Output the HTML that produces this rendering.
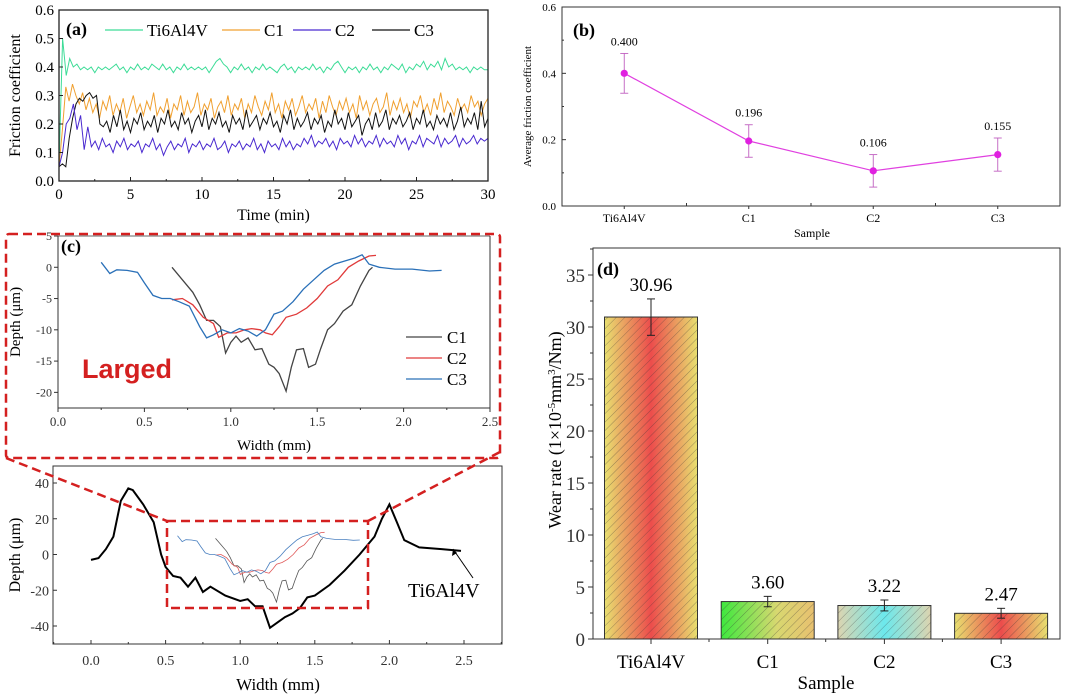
<!DOCTYPE html>
<html><head><meta charset="utf-8"><style>
body{margin:0;background:#fff;}
svg{display:block;font-family:"Liberation Serif",serif;}
</style></head><body>
<svg id="fig" width="1080" height="698" viewBox="0 0 1080 698" xmlns="http://www.w3.org/2000/svg">
<defs>
<pattern id="hatch" width="6" height="6" patternUnits="userSpaceOnUse" patternTransform="rotate(45)"><line x1="0" y1="0" x2="0" y2="6" stroke="#333" stroke-width="0.8" opacity="0.55"/></pattern>
<linearGradient id="gTi" x1="0" x2="1"><stop offset="0" stop-color="#e8e070"/><stop offset="0.5" stop-color="#ec4c4c"/><stop offset="1" stop-color="#e8e070"/></linearGradient>
<linearGradient id="gC1" x1="0" x2="1"><stop offset="0" stop-color="#3ee83e"/><stop offset="0.6" stop-color="#d8d870"/><stop offset="1" stop-color="#e8c070"/></linearGradient>
<linearGradient id="gC2" x1="0" x2="1"><stop offset="0" stop-color="#dcd4b0"/><stop offset="0.5" stop-color="#6ce8ec"/><stop offset="1" stop-color="#dcd4b0"/></linearGradient>
<linearGradient id="gC3" x1="0" x2="1"><stop offset="0" stop-color="#e8e070"/><stop offset="0.5" stop-color="#ec4c4c"/><stop offset="1" stop-color="#e8e070"/></linearGradient>
</defs>
<g id="pa"></g>
<g id="pb"></g>
<g id="pc"></g>
<g id="pd"></g>
</svg>
<script>
// ---- Panel (a) data ----
const fricTi=[0.05,0.50,0.37,0.43,0.40,0.41,0.39,0.40,0.39,0.40,0.38,0.40,0.39,0.40,0.39,0.40,0.41,0.39,0.40,0.38,0.40,0.39,0.41,0.39,0.40,0.39,0.41,0.40,0.39,0.41,0.39,0.40,0.38,0.40,0.39,0.41,0.39,0.40,0.39,0.40,0.39,0.40,0.38,0.40,0.42,0.43,0.41,0.40,0.38,0.40,0.39,0.41,0.39,0.40,0.38,0.40,0.39,0.41,0.39,0.40,0.39,0.38,0.40,0.41,0.39,0.40,0.38,0.40,0.39,0.40,0.39,0.41,0.39,0.40,0.38,0.40,0.39,0.41,0.42,0.40,0.38,0.40,0.39,0.40,0.38,0.40,0.39,0.41,0.39,0.40,0.38,0.40,0.39,0.41,0.40,0.39,0.41,0.38,0.40,0.39,0.41,0.40,0.42,0.39,0.41,0.40,0.42,0.39,0.43,0.40,0.41,0.39,0.40,0.39,0.40,0.38,0.40,0.39,0.40,0.39,0.39];
const fricC1=[0.05,0.18,0.33,0.28,0.34,0.30,0.27,0.31,0.25,0.29,0.24,0.27,0.22,0.28,0.25,0.30,0.23,0.27,0.24,0.29,0.22,0.26,0.30,0.24,0.27,0.23,0.28,0.25,0.31,0.23,0.26,0.24,0.29,0.22,0.27,0.25,0.30,0.23,0.28,0.24,0.26,0.31,0.23,0.27,0.25,0.29,0.22,0.26,0.28,0.24,0.30,0.23,0.27,0.25,0.29,0.22,0.27,0.24,0.30,0.26,0.23,0.28,0.25,0.31,0.24,0.27,0.22,0.28,0.25,0.29,0.23,0.26,0.30,0.24,0.27,0.25,0.29,0.22,0.28,0.24,0.30,0.26,0.23,0.28,0.25,0.29,0.24,0.27,0.22,0.30,0.25,0.28,0.23,0.27,0.29,0.24,0.26,0.31,0.23,0.28,0.25,0.29,0.24,0.27,0.22,0.28,0.26,0.30,0.24,0.27,0.23,0.29,0.25,0.31,0.24,0.28,0.26,0.23,0.29,0.25,0.27,0.24,0.30,0.26,0.28,0.23,0.27,0.29];
const fricC2=[0.05,0.10,0.20,0.22,0.27,0.18,0.23,0.11,0.19,0.12,0.14,0.11,0.15,0.12,0.13,0.10,0.14,0.12,0.15,0.11,0.13,0.12,0.14,0.10,0.13,0.12,0.15,0.11,0.13,0.09,0.12,0.14,0.11,0.13,0.12,0.15,0.10,0.13,0.12,0.14,0.11,0.13,0.12,0.15,0.11,0.12,0.14,0.10,0.13,0.12,0.14,0.11,0.13,0.12,0.15,0.11,0.13,0.10,0.14,0.12,0.13,0.11,0.15,0.12,0.14,0.11,0.13,0.12,0.15,0.13,0.16,0.12,0.14,0.13,0.15,0.12,0.14,0.11,0.15,0.13,0.14,0.12,0.16,0.13,0.15,0.12,0.14,0.13,0.16,0.12,0.15,0.13,0.14,0.12,0.16,0.13,0.15,0.11,0.14,0.13,0.16,0.12,0.15,0.14,0.13,0.16,0.12,0.15,0.13,0.14,0.16,0.12,0.15,0.13,0.14,0.16,0.13,0.15,0.14,0.15];
const fricC3=[0.05,0.06,0.05,0.15,0.22,0.27,0.29,0.28,0.30,0.31,0.29,0.30,0.20,0.19,0.21,0.17,0.23,0.19,0.25,0.18,0.21,0.17,0.22,0.20,0.24,0.18,0.21,0.19,0.23,0.17,0.22,0.20,0.25,0.19,0.21,0.18,0.24,0.20,0.22,0.17,0.21,0.23,0.19,0.25,0.18,0.22,0.20,0.24,0.19,0.21,0.17,0.23,0.20,0.22,0.18,0.25,0.19,0.21,0.23,0.18,0.22,0.20,0.24,0.19,0.21,0.17,0.23,0.20,0.25,0.18,0.22,0.19,0.21,0.24,0.18,0.22,0.20,0.23,0.17,0.21,0.19,0.25,0.20,0.22,0.18,0.24,0.19,0.21,0.23,0.16,0.20,0.22,0.18,0.24,0.19,0.21,0.25,0.18,0.22,0.20,0.23,0.19,0.21,0.24,0.18,0.22,0.20,0.25,0.19,0.21,0.18,0.23,0.20,0.22,0.19,0.24,0.18,0.21,0.26,0.19,0.22,0.20,0.24,0.18,0.28,0.19,0.22];
const timeTicks=[0,5,10,15,20,25,30];
const fricTicks=["0.0","0.1","0.2","0.3","0.4","0.5","0.6"];
// ---- Panel (b) data ----
const samples=["Ti6Al4V","C1","C2","C3"];
const avgFric=[0.400,0.196,0.106,0.155];
const avgFricErr=[0.060,0.049,0.049,0.050];
const avgLabels=["0.400","0.196","0.106","0.155"];
const avgTicks=["0.0","0.2","0.4","0.6"];
// ---- Panel (c) data ----
const c1X=[0.66,0.72,0.78,0.82,0.86,0.90,0.94,0.97,1.0,1.03,1.06,1.1,1.14,1.18,1.22,1.25,1.28,1.32,1.35,1.38,1.42,1.45,1.49,1.52,1.56,1.6,1.65,1.7,1.75,1.8,1.82];
const c1Y=[0,-2,-4,-6,-8.5,-8.5,-9.5,-13.7,-12,-11,-12,-11.3,-13.2,-13,-15.5,-16,-17,-19.8,-16,-13.2,-13,-16,-15.5,-13,-10,-9,-7,-6,-3,-0.5,0];
const c2X=[0.66,0.72,0.78,0.84,0.9,0.93,0.98,1.03,1.08,1.12,1.17,1.2,1.24,1.28,1.32,1.38,1.44,1.5,1.56,1.62,1.68,1.74,1.8,1.84];
const c2Y=[-5.2,-5,-6,-8,-9,-11.2,-10.5,-10.5,-10,-9.8,-10,-10.5,-10.8,-9.5,-8,-7.5,-6.5,-5,-3,-2,0,1,1.8,1.9];
const c3X=[0.25,0.3,0.34,0.4,0.46,0.5,0.55,0.6,0.65,0.7,0.76,0.82,0.86,0.9,0.95,1.0,1.05,1.1,1.15,1.2,1.25,1.3,1.36,1.42,1.48,1.54,1.6,1.66,1.72,1.76,1.8,1.86,1.95,2.05,2.15,2.22];
const c3Y=[0.8,-1,-0.4,-0.5,-0.8,-2.5,-4.5,-5,-5,-5.5,-6.2,-9.5,-11.3,-10.8,-10,-10.5,-9.8,-10.2,-11,-10,-7.5,-7,-5.5,-3.5,-2,-0.5,0.5,1,1.5,2,0.5,0,-0.3,-0.3,-0.6,-0.5];
const tiX=[0,0.05,0.1,0.15,0.2,0.25,0.28,0.35,0.42,0.47,0.5,0.55,0.6,0.65,0.7,0.75,0.8,0.9,1.0,1.05,1.1,1.15,1.2,1.25,1.3,1.35,1.4,1.45,1.5,1.6,1.7,1.8,1.9,1.95,2.0,2.05,2.1,2.2,2.35,2.48];
const tiY=[-3,-2,3,10,30,37,36,28,18,0,-7,-12,-13,-18,-13,-21,-18,-23,-26,-25,-29,-29,-41,-38,-35,-33,-30,-24,-23,-17,-9,0,10,20,28,18,8,4,3,2];
const widthTicks=["0.0","0.5","1.0","1.5","2.0","2.5"];
const insetDepthTicks=[5,0,-5,-10,-15,-20];
const mainDepthTicks=[40,20,0,-20,-40];
// ---- Panel (d) data ----
const wearRate=[30.96,3.60,3.22,2.47];
const wearLo=[29.2,3.1,2.7,2.0];
const wearHi=[32.7,4.1,3.75,2.95];
const wearLabels=["30.96","3.60","3.22","2.47"];
const wearTicks=[0,5,10,15,20,25,30,35];
const wearFills=["url(#gTi)","url(#gC1)","url(#gC2)","url(#gC3)"];

const NS="http://www.w3.org/2000/svg";
function mk(parent,tag,attrs,text){const e=document.createElementNS(NS,tag);for(const k in attrs)e.setAttribute(k,attrs[k]);if(text!==undefined)e.textContent=text;parent.appendChild(e);return e;}
function pathD(xs,ys,fx,fy){let d="";for(let i=0;i<xs.length;i++)d+=(i?"L":"M")+fx(xs[i]).toFixed(1)+","+fy(ys[i]).toFixed(1);return d;}

// ===== Panel A =====
(function(){
const g=document.getElementById('pa');
const X0=59,X1=488,Y0=181,Y1=10;
const fx=t=>X0+(t/30)*(X1-X0), fy=v=>Y0-(v/0.6)*(Y0-Y1);
const series=[[fricTi,"#3ddc97","series-ti6al4v"],[fricC1,"#f0a030","series-c1"],[fricC3,"#111","series-c3"],[fricC2,"#4a2ad0","series-c2"]];
series.forEach(s=>{const arr=s[0];const xs=arr.map((v,i)=>i*30/(arr.length-1));
 const p=mk(g,'path',{d:pathD(xs,arr,fx,fy),fill:'none',stroke:s[1],'stroke-width':1});
 
 });
const fr=mk(g,'rect',{x:X0,y:Y1,width:X1-X0,height:Y0-Y1,fill:'none',stroke:'#222','stroke-width':1.3});

timeTicks.forEach((t,i)=>{mk(g,'line',{x1:fx(t),x2:fx(t),y1:Y0,y2:Y0-4,stroke:'#222'});
 if(i<timeTicks.length-1)mk(g,'line',{x1:fx(t+2.5),x2:fx(t+2.5),y1:Y0,y2:Y0-2,stroke:'#222'});
 const tl=mk(g,'text',{x:fx(t),y:Y0+18,'font-size':15,'text-anchor':'middle'},String(t));
 });
fricTicks.forEach(s=>{const y=fy(parseFloat(s));mk(g,'line',{x1:X0,x2:X0+4,y1:y,y2:y,stroke:'#222'});
 const tl=mk(g,'text',{x:X0-5,y:y+5,'font-size':15,'text-anchor':'end'},s);
 });
const xt=mk(g,'text',{x:(X0+X1)/2,y:220,'font-size':16,'text-anchor':'middle'},'Time (min)');

const yt=mk(g,'text',{x:0,y:0,'font-size':16,'text-anchor':'middle',transform:'translate(20,'+(Y0+Y1)/2+') rotate(-90)'},'Friction coefficient');

const lab=mk(g,'text',{x:66,y:35,'font-size':18,'font-weight':'bold'},'(a)');

const leg=[["Ti6Al4V","#3ddc97",105],["C1","#f0a030",222],["C2","#4a2ad0",293],["C3","#111",372]];
leg.forEach(l=>{mk(g,'line',{x1:l[2],x2:l[2]+38,y1:30,y2:30,stroke:l[1],'stroke-width':1.2});
 const t=mk(g,'text',{x:l[2]+42,y:36,'font-size':17},l[0]);
 });
})();

// ===== Panel B =====
(function(){
const g=document.getElementById('pb');
const X0=562,X1=1060,Y0=206,Y1=7;
const fx=i=>X0+(i+0.5)*(X1-X0)/4, fy=v=>Y0-(v/0.6)*(Y0-Y1);
const fr=mk(g,'rect',{x:X0,y:Y1,width:X1-X0,height:Y0-Y1,fill:'none',stroke:'#333','stroke-width':1});

avgTicks.forEach(s=>{const y=fy(parseFloat(s));mk(g,'line',{x1:X0,x2:X0+4,y1:y,y2:y,stroke:'#333'});
 const t=mk(g,'text',{x:X0-6,y:y+4,'font-size':11,'text-anchor':'end'},s);
 });
[0.1,0.3,0.5].forEach(v=>mk(g,'line',{x1:X0,x2:X0+2,y1:fy(v),y2:fy(v),stroke:'#333'}));
for(let i=1;i<4;i++){const x=X0+i*(X1-X0)/4;mk(g,'line',{x1:x,x2:x,y1:Y0,y2:Y0-3,stroke:'#333'});}
mk(g,'path',{d:pathD(samples.map((s,i)=>i),avgFric,fx,fy),fill:'none',stroke:'#e040e0','stroke-width':1.2});
samples.forEach((s,i)=>{const x=fx(i);
 mk(g,'line',{x1:x,x2:x,y1:fy(avgFric[i]-avgFricErr[i]),y2:fy(avgFric[i]+avgFricErr[i]),stroke:'#c060c0','stroke-width':0.9});
 [avgFric[i]-avgFricErr[i],avgFric[i]+avgFricErr[i]].forEach(v=>mk(g,'line',{x1:x-4,x2:x+4,y1:fy(v),y2:fy(v),stroke:'#c060c0','stroke-width':0.9}));
 const c=mk(g,'circle',{cx:x,cy:fy(avgFric[i]),r:3.6,fill:'#e020e0'});
 
 mk(g,'text',{x:x,y:fy(avgFric[i]+avgFricErr[i])-8,'font-size':12,'text-anchor':'middle'},avgLabels[i]);
 mk(g,'line',{x1:x,x2:x,y1:Y0,y2:Y0+3,stroke:'#333'});
 const t=mk(g,'text',{x:x,y:Y0+16,'font-size':12,'text-anchor':'middle'},s);
 });
const xt=mk(g,'text',{x:812,y:237,'font-size':12,'text-anchor':'middle'},'Sample');

const yt=mk(g,'text',{x:0,y:0,'font-size':11,'text-anchor':'middle',transform:'translate(531,'+(Y0+Y1)/2+') rotate(-90)'},'Average friction coefficient');

const lab=mk(g,'text',{x:573,y:36,'font-size':18,'font-weight':'bold'},'(b)');

})();

// ===== Panel C =====
(function(){
const g=document.getElementById('pc');
// inset
const X0=58,X1=490,YT=236,YB=408;
const fx=v=>X0+v/2.5*(X1-X0), fy=v=>YT+(5-v)/27.5*(YB-YT);
[[c1X,c1Y,"#444","inset-c1"],[c2X,c2Y,"#e03a3a","inset-c2"],[c3X,c3Y,"#2a70b8","inset-c3"]].forEach(s=>{
 const p=mk(g,'path',{d:pathD(s[0],s[1],fx,fy),fill:'none',stroke:s[2],'stroke-width':1.3});
 });
mk(g,'polyline',{points:`${X0},${YT} ${X0},${YB} ${X1},${YB} ${X1},${YT}`,fill:'none',stroke:'#333','stroke-width':1});
mk(g,'line',{x1:X0,x2:X1,y1:YT,y2:YT,stroke:'#333','stroke-width':0.8});
widthTicks.forEach(s=>{const x=fx(parseFloat(s));mk(g,'line',{x1:x,x2:x,y1:YB,y2:YB+4,stroke:'#333'});
 mk(g,'line',{x1:x+0.125*(X1-X0)/2.5*2/2,x2:x+0.25*(X1-X0)/2.5,y1:YB,y2:YB,stroke:'none'});
 const t=mk(g,'text',{x:x,y:YB+18,'font-size':13,'text-anchor':'middle','fill':'#333'},s);
 });
for(let v=0.25;v<2.5;v+=0.5)mk(g,'line',{x1:fx(v),x2:fx(v),y1:YB,y2:YB+2,stroke:'#333'});
insetDepthTicks.forEach(v=>{const y=fy(v);mk(g,'line',{x1:X0,x2:X0-4,y1:y,y2:y,stroke:'#333'});
 const t=mk(g,'text',{x:X0-6,y:y+4,'font-size':12,'text-anchor':'end','fill':'#333'},String(v));
 });
const xt=mk(g,'text',{x:274,y:450,'font-size':15,'text-anchor':'middle'},'Width (mm)');

const yt=mk(g,'text',{x:0,y:0,'font-size':15,'text-anchor':'middle',transform:'translate(20,'+(YT+YB)/2+') rotate(-90)'},'Depth (μm)');

const lab=mk(g,'text',{x:61,y:252,'font-size':18,'font-weight':'bold'},'(c)');

const lg=mk(g,'text',{x:82,y:378,'font-size':27,'font-weight':'bold','fill':'#d42020','font-family':'Liberation Sans, sans-serif'},'Larged');

[["C1","#444",337],["C2","#e03a3a",358],["C3","#2a70b8",379]].forEach(l=>{
 mk(g,'line',{x1:406,x2:442,y1:l[2],y2:l[2],stroke:l[1],'stroke-width':1.3});
 const t=mk(g,'text',{x:447,y:l[2]+6,'font-size':17},l[0]);
 });
const box=mk(g,'rect',{x:6,y:234,width:494,height:224,rx:3,fill:'none',stroke:'#d42020','stroke-width':2.5,'stroke-dasharray':'9,5'});


// main profile
const MX0=53,MX1=502,MYT=466,MYB=644;
const gx=v=>91+v*(464-91)/2.5, gy=v=>554.5-v*(626-483)/80;
const small=[[c1X,c1Y,"#555"],[c2X,c2Y,"#e05a5a"],[c3X,c3Y,"#4a80c0"]];
small.forEach(s=>{mk(g,'path',{d:pathD(s[0],s[1],v=>gx(0.58+(v-0.25)*0.62),v=>gy(9+1.8*v)),fill:'none',stroke:s[2],'stroke-width':0.8});});
const ti=mk(g,'path',{d:pathD(tiX,tiY,gx,gy),fill:'none',stroke:'#000','stroke-width':2});

mk(g,'rect',{x:MX0,y:MYT,width:MX1-MX0,height:MYB-MYT,fill:'none',stroke:'#333','stroke-width':1});
widthTicks.forEach(s=>{const x=gx(parseFloat(s));mk(g,'line',{x1:x,x2:x,y1:MYB,y2:MYB-4,stroke:'#333'});
 const t=mk(g,'text',{x:x,y:MYB+21,'font-size':14,'text-anchor':'middle','fill':'#333'},s);
 });
for(let v=-0.25;v<2.8;v+=0.5)mk(g,'line',{x1:gx(v),x2:gx(v),y1:MYB,y2:MYB-2,stroke:'#333'});
mainDepthTicks.forEach(v=>{const y=gy(v);mk(g,'line',{x1:MX0,x2:MX0+4,y1:y,y2:y,stroke:'#333'});
 const t=mk(g,'text',{x:MX0-4,y:y+5,'font-size':14,'text-anchor':'end','fill':'#333'},String(v));
 });
const xt2=mk(g,'text',{x:278,y:690,'font-size':17,'text-anchor':'middle'},'Width (mm)');

const yt2=mk(g,'text',{x:0,y:0,'font-size':16,'text-anchor':'middle',transform:'translate(20,'+(MYT+MYB)/2+') rotate(-90)'},'Depth (μm)');

const tl=mk(g,'text',{x:408,y:597,'font-size':20},'Ti6Al4V');

mk(g,'line',{x1:473,x2:453,y1:578,y2:549,stroke:'#000','stroke-width':1});
mk(g,'path',{d:'M453,549 L452,556 L457,553 Z',fill:'#000'});
const rb=mk(g,'rect',{x:167,y:521,width:201,height:87,fill:'none',stroke:'#d42020','stroke-width':2.5,'stroke-dasharray':'9,5'});

mk(g,'line',{x1:6,x2:167,y1:458,y2:521,stroke:'#d42020','stroke-width':2.5,'stroke-dasharray':'9,5'});
mk(g,'line',{x1:500,x2:368,y1:452,y2:521,stroke:'#d42020','stroke-width':2.5,'stroke-dasharray':'9,5'});
})();

// ===== Panel D =====
(function(){
const g=document.getElementById('pd');
const X0=593,X1=1060,Y0=639,YT=248;
const fy=v=>Y0-v*(639-275)/35, fx=i=>651+i*116.7;
mk(g,'rect',{x:X0,y:YT,width:X1-X0,height:Y0-YT,fill:'none',stroke:'#333','stroke-width':1});
wearTicks.forEach(v=>{const y=fy(v);mk(g,'line',{x1:X0,x2:X0-5,y1:y,y2:y,stroke:'#333'});
 mk(g,'line',{x1:X0,x2:X0-3,y1:fy(v+2.5),y2:fy(v+2.5),stroke:'#333'});
 const t=mk(g,'text',{x:X0-8,y:y+7,'font-size':19,'text-anchor':'end','fill':'#333'},String(v));
 });
samples.forEach((s,i)=>{const x=fx(i),w=93;
 const b=mk(g,'rect',{x:x-w/2,y:fy(wearRate[i]),width:w,height:Y0-fy(wearRate[i]),fill:wearFills[i]});
 
 mk(g,'rect',{x:x-w/2,y:fy(wearRate[i]),width:w,height:Y0-fy(wearRate[i]),fill:'url(#hatch)',stroke:'#333','stroke-width':1});
 mk(g,'line',{x1:x,x2:x,y1:fy(wearLo[i]),y2:fy(wearHi[i]),stroke:'#222','stroke-width':1});
 [wearLo[i],wearHi[i]].forEach(v=>mk(g,'line',{x1:x-4,x2:x+4,y1:fy(v),y2:fy(v),stroke:'#222','stroke-width':1}));
 mk(g,'text',{x:x,y:fy(wearHi[i])-8,'font-size':19,'text-anchor':'middle'},wearLabels[i]);
 mk(g,'line',{x1:x,x2:x,y1:Y0,y2:Y0+5,stroke:'#333'});
 if(i<3)mk(g,'line',{x1:x+58,x2:x+58,y1:Y0,y2:Y0+3,stroke:'#333'});
 const t=mk(g,'text',{x:x,y:Y0+29,'font-size':19,'text-anchor':'middle'},s);
 });
const xt=mk(g,'text',{x:826,y:689,'font-size':19,'text-anchor':'middle'},'Sample');

const yt=mk(g,'text',{x:0,y:0,'font-size':18,'text-anchor':'middle',transform:'translate(561,430) rotate(-90)'});

yt.innerHTML='Wear rate (1×10<tspan dy="-6" font-size="11">-5</tspan><tspan dy="6">mm</tspan><tspan dy="-6" font-size="11">3</tspan><tspan dy="6">/Nm)</tspan>';
const lab=mk(g,'text',{x:597,y:275,'font-size':18,'font-weight':'bold'},'(d)');

})();
</script>
</body></html>
